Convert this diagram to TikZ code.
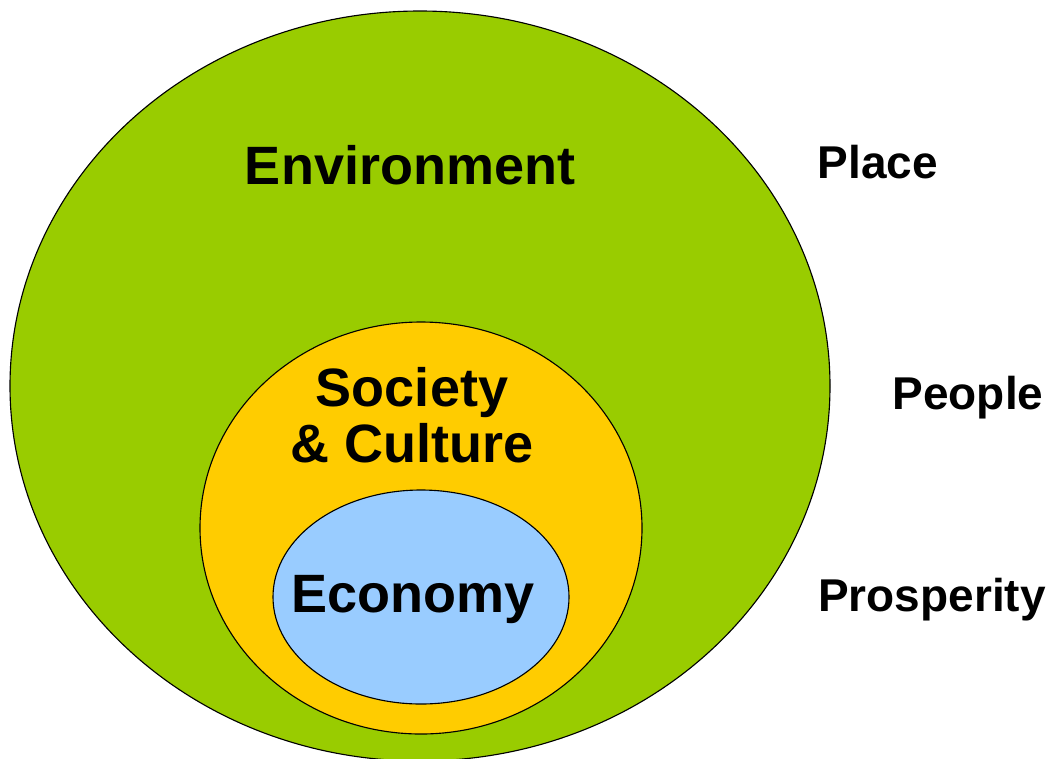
\documentclass[tikz,border=0pt]{standalone}
\usepackage{fontspec}
\setmainfont{Liberation Sans}
\definecolor{EnvClr}{HTML}{99CC00}
\definecolor{SocClr}{HTML}{FFCC00}
\definecolor{EcoClr}{HTML}{99CCFF}

\begin{document}
\begin{tikzpicture}[x=0.025cm,y=-0.025cm]
\tikzset{ring/.style={draw=black,line width=0.8pt},
  inlabel/.style={font=\fontsize{38.4}{44}\selectfont\bfseries,align=center},
  outlabel/.style={font=\fontsize{32.7}{38}\selectfont\bfseries}}
\useasboundingbox (0,0) rectangle (1056,758);

% Step 1.
\begin{scope}
\clip (0,0) rectangle (1056,758);
\draw[ring,fill=EnvClr] (420,386) ellipse [x radius=410,y radius=375];
\end{scope}

% Step 2.
\draw[ring,fill=SocClr] (421,528) ellipse [x radius=221,y radius=206];

% Step 3.
\draw[ring,fill=EcoClr] (421,597) ellipse [x radius=148,y radius=107];

\node[inlabel] (env) at (410,165) {Environment};
\node[inlabel] (soc) at (412,415) {Society\\[-4pt]\& Culture};
\node[inlabel] (eco) at (413,600) {Economy};

\node[outlabel] (place) at (878,162) {Place};
\node[outlabel] (people) at (968,398) {People};
\node[outlabel] (prosp) at (932,600) {Prosperity};

\end{tikzpicture}
\end{document}
